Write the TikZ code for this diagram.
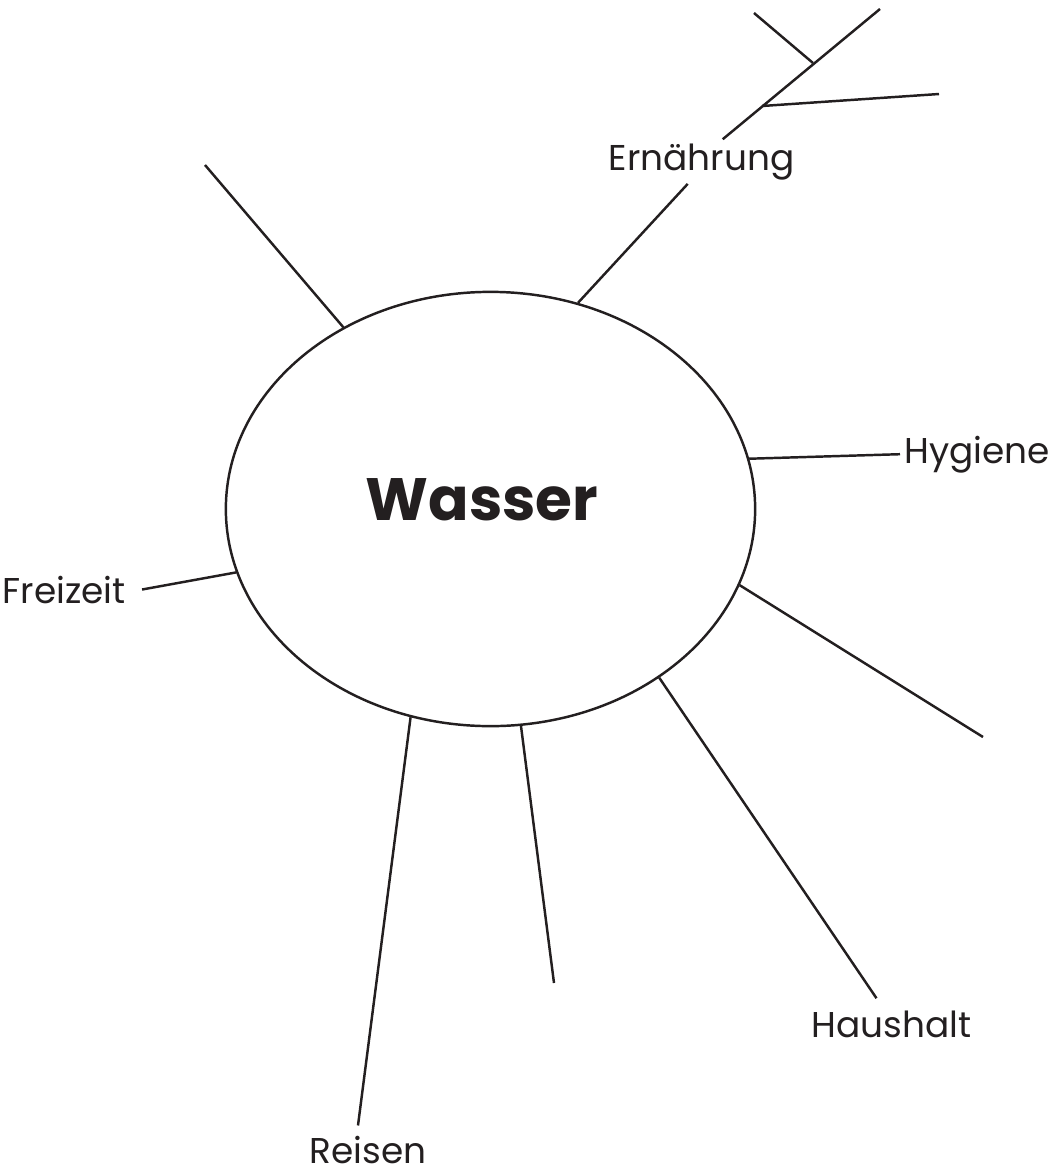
\documentclass[tikz,border=0pt]{standalone}
\usepackage{fontspec}
\setmainfont{Poppins}
\usetikzlibrary{shapes.geometric}
\definecolor{mapInk}{HTML}{231F20}

\begin{document}
\begin{tikzpicture}[
    x=0.01cm, y=-0.01cm,
    topic/.style={
        ellipse,
        draw=mapInk,
        line width=0.7pt,
        minimum width=5.29cm,
        minimum height=4.34cm,
        inner sep=0pt
    },
    topictext/.style={
        font=\fontsize{17}{20}\selectfont\bfseries,
        text=mapInk,
        inner sep=0pt
    },
    branchlabel/.style={
        inner sep=1pt,
        font=\fontsize{10.2}{12}\selectfont,
        text=mapInk
    },
    branch/.style={
        line width=0.7pt,
        draw=mapInk
    }
]
\useasboundingbox (0,0) rectangle (1064,1172);

% Central topic
\node[topic] (wasser) at (490.5,509) {};
\node[topictext, anchor=base] (wassertext) at (482,520) {Wasser};

% Branch labels
\node[branchlabel, anchor=base] (ern) at (701.7,170) {Ernährung};
\node[branchlabel, anchor=base west] (hyg) at (900,463) {Hygiene};
\node[branchlabel, anchor=base] (haus) at (891.5,1037) {Haushalt};
\node[branchlabel, anchor=base] (reisen) at (368,1163) {Reisen};
\node[branchlabel, anchor=base east] (frz) at (130,603) {Freizeit};

% Free ends of the empty branches
\coordinate (tlend) at (205,165);
\coordinate (ernend) at (880,9);
\coordinate (ernfork) at (813,63);
\coordinate (ernfork2) at (762,106);
\coordinate (ernleaf1) at (754,13);
\coordinate (ernleaf2) at (939,94);
\coordinate (rightend) at (983,737);
\coordinate (midend) at (554,983);

% Branches
\draw[branch] (wasser.129) -- (tlend);
\draw[branch] (wasser.67) -- ([xshift=-0.14cm]ern.south);
\draw[branch] ([xshift=0.21cm]ern.north) -- (ernend);
\draw[branch] (ernleaf1) -- (ernfork);
\draw[branch] (ernfork2) -- (ernleaf2);
\draw[branch] (wasser.11) -- (hyg.west);
\draw[branch] (wasser.-17) -- (rightend);
\draw[branch] (wasser.-45) -- ([xshift=-0.15cm,yshift=0.08cm]haus.north);
\draw[branch] (wasser.-82) -- (midend);
\draw[branch] (wasser.-111) -- ([xshift=-0.1cm,yshift=0.06cm]reisen.north);
\draw[branch] (wasser.194) -- ([xshift=0.12cm]frz.east);

\end{tikzpicture}
\end{document}
